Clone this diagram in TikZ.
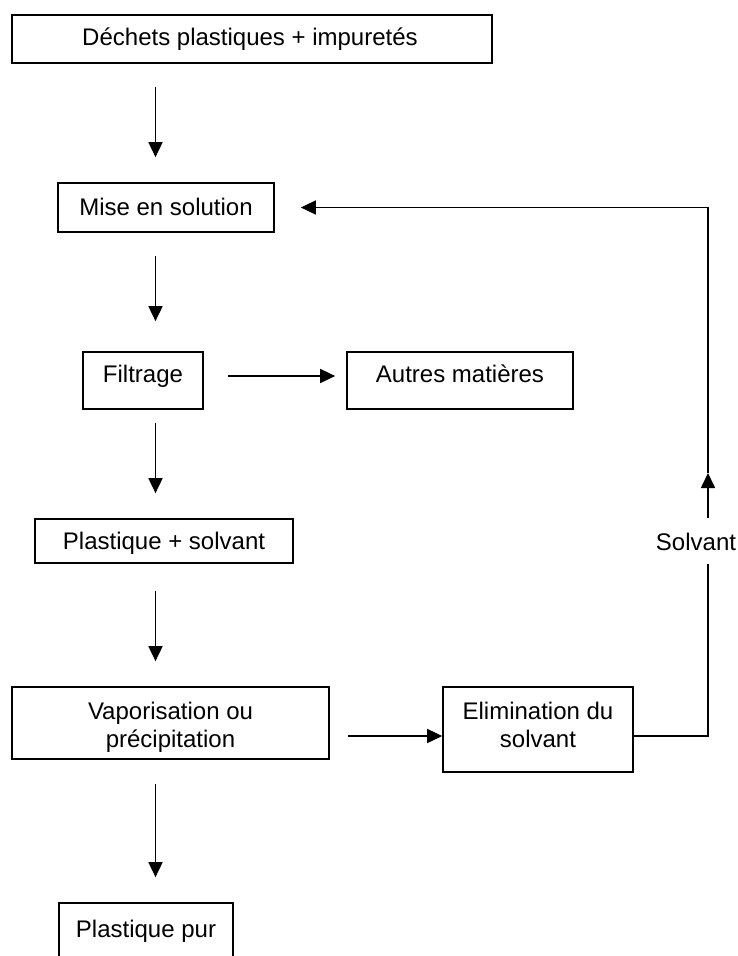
\documentclass[tikz,border=0pt]{standalone}
\usepackage{fontspec}
\setmainfont{Liberation Sans}
\usetikzlibrary{arrows.meta,calc}

\tikzset{
  box/.style={draw, line width=1.7pt, inner sep=0pt, rectangle},
  lbl/.style={anchor=base, inner sep=0pt, font=\fontsize{24}{28}\selectfont},
  link/.style={line width=1.7pt},
  arr/.style={link, -{Triangle[length=15pt,width=14pt]}},
}

\begin{document}
\begin{tikzpicture}[x=1pt,y=-1pt]
\useasboundingbox (0,0) rectangle (737,956);

% process boxes
\node[box, minimum width=480pt, minimum height=48pt] (b1) at (252,39) {};
\node[box, minimum width=216pt, minimum height=49pt] (b2) at (166,207.5) {};
\node[box, minimum width=120pt, minimum height=57pt] (b3) at (143,380.5) {};
\node[box, minimum width=226pt, minimum height=57pt] (b4) at (460,380.5) {};
\node[box, minimum width=258pt, minimum height=44pt] (b5) at (164,541) {};
\node[box, minimum width=317pt, minimum height=72pt] (b6) at (170.5,723) {};
\node[box, minimum width=190pt, minimum height=85pt] (b7) at (538,729.5) {};
\node[box, minimum width=174pt, minimum height=100pt] (b8) at (146,953) {};

% box texts
\node[lbl] (t1) at (250,45.5) {Déchets plastiques + impuretés};
\node[lbl] (t2) at (166,215) {Mise en solution};
\node[lbl] (t3) at (143,382) {Filtrage};
\node[lbl] (t4) at (460,382) {Autres matières};
\node[lbl] (t5) at (164,549) {Plastique + solvant};
\node[lbl] (t6a) at (170.5,719) {Vaporisation ou};
\node[lbl] (t6b) at (170.5,747) {précipitation};
\node[lbl] (t7a) at (538,719) {Elimination du};
\node[lbl] (t7b) at (538,747) {solvant};
\node[lbl] (t8) at (146,937) {Plastique pur};
\node[lbl] (t9) at (696,550) {Solvant};

% main column of downward arrows
\coordinate (col) at (155.5,0);
\draw[arr, shorten <=23pt, shorten >=25pt] (b1.south -| col) -- (b2.north -| col);
\draw[arr, shorten <=23pt, shorten >=30pt] (b2.south -| col) -- (b3.north -| col);
\draw[arr, shorten <=13pt, shorten >=25pt] (b3.south -| col) -- (b5.north -| col);
\draw[arr, shorten <=27pt, shorten >=25pt] (b5.south -| col) -- (b6.north -| col);
\draw[arr, shorten <=24pt, shorten >=25pt] (b6.south -| col) -- (b8.north -| col);

% side branches
\draw[arr, shorten <=24pt, shorten >=11pt] ([yshift=4.5pt]b3.east) -- ([yshift=4.5pt]b4.west);
\coordinate (e7) at ([yshift=-6.5pt]b7.west);
\draw[arr, shorten <=18pt] (b6.east |- e7) -- (e7);

% solvent recycling loop
\coordinate (r0) at ([yshift=-6.5pt]b7.east);
\coordinate (c1) at (708,736);
\coordinate (s3) at (708,564);
\coordinate (s1) at (708,518);
\coordinate (s2) at (708,473);
\coordinate (c2) at (708,207.5);
\draw[link] (r0) -- (c1) -- (s3);
\draw[arr] (s1) -- (s2);
\draw[arr, shorten >=26pt] (s2) -- (c2) -- (b2.east);
\end{tikzpicture}
\end{document}
